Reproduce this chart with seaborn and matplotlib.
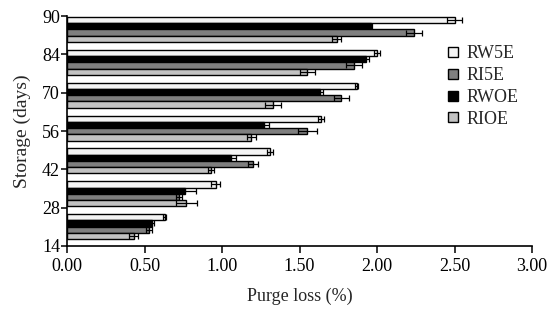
import pandas as pd
import matplotlib.pyplot as plt
import seaborn as sns
import numpy as np
from matplotlib.lines import Line2D

# =============================================================================
# DATA
# =============================================================================
days = ['90', '84', '70', '56', '42', '28', '14']           # groups, top to bottom
treatments = ['RW5E', 'RWOE', 'RI5E', 'RIOE']                # bar order inside a group
legend_order = ['RW5E', 'RI5E', 'RWOE', 'RIOE']

rw5e = [2.50, 2.00, 1.87, 1.64, 1.31, 0.96, 0.63]
rwoe = [1.96, 1.93, 1.63, 1.27, 1.06, 0.76, 0.55]
ri5e = [2.24, 1.85, 1.77, 1.55, 1.20, 0.72, 0.53]
rioe = [1.74, 1.55, 1.33, 1.19, 0.93, 0.77, 0.43]

rw5e_err = [0.05, 0.02, 0.01, 0.02, 0.02, 0.03, 0.01]
rwoe_err = [0.01, 0.02, 0.02, 0.03, 0.03, 0.07, 0.01]
ri5e_err = [0.05, 0.05, 0.05, 0.06, 0.03, 0.02, 0.02]
rioe_err = [0.03, 0.05, 0.05, 0.03, 0.02, 0.07, 0.03]

tick_labels = ['90', '84', '70', '56', '42', '28', '14']
colors = {'RW5E': '#f4f4f4', 'RWOE': '#000000', 'RI5E': '#7f7f7f', 'RIOE': '#c2c2c2'}

values = {'RW5E': rw5e, 'RWOE': rwoe, 'RI5E': ri5e, 'RIOE': rioe}
errors = {'RW5E': rw5e_err, 'RWOE': rwoe_err, 'RI5E': ri5e_err, 'RIOE': rioe_err}

df = pd.DataFrame([
    {'day': d, 'treatment': t, 'loss': values[t][i]}
    for t in treatments for i, d in enumerate(days)
])

# =============================================================================
# PLOT
# =============================================================================
sns.set_style('ticks')
plt.rcParams['font.family'] = ['Liberation Serif', 'DejaVu Serif']

fig = plt.figure(figsize=(5.52, 3.09), dpi=100)
ax = fig.add_axes([0.1214, 0.2039, 0.8424, 0.7443])

sns.barplot(data=df, y='day', x='loss', hue='treatment', order=days,
            hue_order=treatments, palette=colors, orient='h', width=0.76,
            errorbar=None, edgecolor='black', linewidth=1.0, legend=False, ax=ax)

# error bars on top of each bar, positions taken from the drawn patches
for cont, t in zip(ax.containers, treatments):
    ys = [b.get_y() + b.get_height() / 2 for b in cont]
    xs = [b.get_width() for b in cont]
    ax.errorbar(xs, ys, xerr=errors[t], fmt='none', ecolor='black',
                elinewidth=0.9, capsize=2.2, capthick=0.9, zorder=5)

top = -0.41
ax.set_ylim(top + 7, top)
ax.set_yticks([top + k * 7 / 6 for k in range(7)])
ax.set_yticklabels(tick_labels)

ax.set_xlim(0, 3.0)
ax.set_xticks(np.arange(0, 3.01, 0.5))
ax.set_xticklabels([f'{v:.2f}' for v in np.arange(0, 3.01, 0.5)])

ax.set_xlabel('Purge loss (%)', fontsize=13, labelpad=9)
ax.set_ylabel('Storage (days)', fontsize=14, labelpad=8)
ax.tick_params(axis='both', labelsize=13, direction='out', width=1.1, colors='black')
ax.tick_params(axis='x', length=5, pad=4)
ax.tick_params(axis='y', length=4, pad=1)
sns.despine(ax=ax)
for s in ['left', 'bottom']:
    ax.spines[s].set_linewidth(1.2)
    ax.spines[s].set_color('black')

handles = [Line2D([0], [0], marker='s', linestyle='none', markersize=6.5,
                  markerfacecolor=colors[t], markeredgecolor='black',
                  markeredgewidth=1.0, label=t) for t in legend_order]
ax.legend(handles=handles, loc='upper left', bbox_to_anchor=(0.80, 0.905),
          frameon=False, fontsize=13, handlelength=0.8, handletextpad=0.3,
          labelspacing=0.27, borderaxespad=0)

plt.savefig('out.png', dpi=100)
